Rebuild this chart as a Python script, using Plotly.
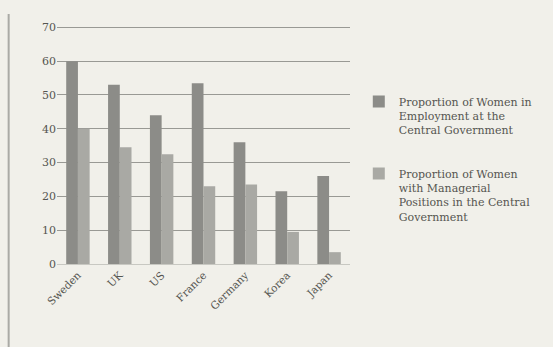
import plotly.graph_objects as go

countries = ["Sweden", "UK", "US", "France", "Germany", "Korea", "Japan"]
employment = [60, 53, 44, 53.5, 36, 21.5, 26]
managerial = [40, 34.5, 32.5, 23, 23.5, 9.5, 3.5]
series_names = [
    "Proportion of Women in<br>Employment at the<br>Central Government",
    "Proportion of Women<br>with Managerial<br>Positions in the Central<br>Government",
]

fig = go.Figure()
fig.add_trace(go.Bar(x=countries, y=employment, name=series_names[0], legendgroup="a",
                     marker=dict(color="#8c8c88", line=dict(width=0))))
fig.add_trace(go.Bar(x=countries, y=managerial, name=series_names[1], legendgroup="b",
                     marker=dict(color="#a9a9a4", line=dict(width=0))))

fig.update_layout(
    width=553, height=347,
    margin=dict(l=57, r=203, t=26, b=83),
    paper_bgcolor="#f1f0ea",
    plot_bgcolor="#f1f0ea",
    barmode="group",
    bargap=0.44,
    bargroupgap=0,
    font=dict(family="DejaVu Serif", size=10, color="#555550"),
    showlegend=True,
    legend=dict(x=1.03, y=0.74, xanchor="left", yanchor="top", valign="top",
                font=dict(family="DejaVu Serif", size=11, color="#555550"),
                tracegroupgap=26, bgcolor="rgba(0,0,0,0)"),
    xaxis=dict(tickangle=-45, showgrid=False, showline=True,
               linecolor="#c8c8c2", ticks="", tickfont=dict(size=10.5)),
    yaxis=dict(range=[0, 70.4], tickvals=[0, 10, 20, 30, 40, 50, 60, 70],
               showgrid=True, gridcolor="#999994",
               gridwidth=1.2, zeroline=False, ticks="", tickfont=dict(size=11)),
    shapes=[dict(type="line", xref="paper", yref="paper", x0=-0.165, x1=-0.165,
                 y0=-0.35, y1=1.05, line=dict(color="#aaaaa5", width=2))],
)

fig.write_html("out.html")
